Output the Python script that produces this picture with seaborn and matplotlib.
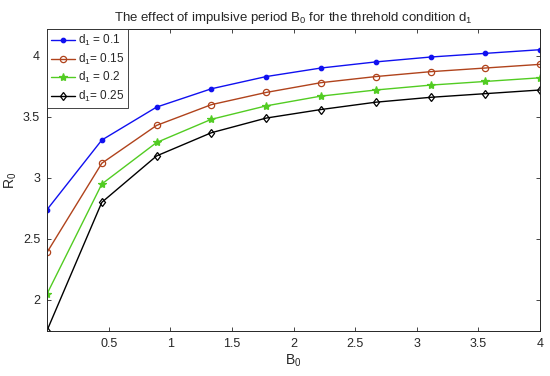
import numpy as np
import pandas as pd
import matplotlib
matplotlib.use("Agg")
import matplotlib.pyplot as plt
import seaborn as sns

# data
B0 = np.linspace(0, 4, 10)
r_d01 = [2.74, 3.31, 3.58, 3.73, 3.83, 3.90, 3.95, 3.99, 4.02, 4.05]
r_d015 = [2.39, 3.12, 3.43, 3.60, 3.70, 3.78, 3.83, 3.87, 3.90, 3.93]
r_d02 = [2.05, 2.95, 3.29, 3.48, 3.59, 3.67, 3.72, 3.76, 3.79, 3.82]
r_d025 = [1.75, 2.80, 3.18, 3.37, 3.49, 3.56, 3.62, 3.66, 3.69, 3.72]
labels = ["d$_1$ = 0.1", "d$_1$= 0.15", "d$_1$ = 0.2", "d$_1$= 0.25"]

sns.set_style("ticks")
plt.rcParams["font.family"] = ["Liberation Sans", "DejaVu Sans"]
plt.rcParams["mathtext.default"] = "regular"

fig = plt.figure(figsize=(5.5, 3.76), dpi=100)
ax = fig.add_axes([0.0855, 0.1197, 0.8965, 0.8033])

series = [r_d01, r_d015, r_d02, r_d025]
colors = ["#1010f0", "#b0431c", "#52cc22", "#000000"]
markers = ["o", "o", "*", "d"]
sizes = [3.2, 4.5, 6, 4.5]
fills = [True, False, True, False]

for vals, lab, c, m, s, f in zip(series, labels, colors, markers, sizes, fills):
    sns.lineplot(x=B0, y=vals, ax=ax, color=c, marker=m, markersize=s,
                 markerfacecolor=c if f else "none", markeredgecolor=c,
                 markeredgewidth=0.9, linewidth=1.0, label=lab)

ax.set_xlim(0, 4)
ax.set_ylim(1.746, 4.22)
ax.set_xticks([0.5, 1, 1.5, 2, 2.5, 3, 3.5, 4])
ax.set_xticklabels(["0.5", "1", "1.5", "2", "2.5", "3", "3.5", "4"])
ax.set_yticks([2, 2.5, 3, 3.5, 4])
ax.set_yticklabels(["2", "2.5", "3", "3.5", "4"])
ax.tick_params(direction="in", length=3, width=0.6, top=True, right=True,
               labelsize=9, colors="#262626", pad=5)
for sp in ax.spines.values():
    sp.set_linewidth(0.7)
    sp.set_color("#262626")
    sp.set_visible(True)

ax.set_xlabel("B$_0$", fontsize=10, labelpad=2)
ax.set_ylabel("R$_0$", fontsize=10, labelpad=3)
ax.set_title("The effect of impulsive period B$_0$ for the threhold condition d$_1$",
             fontsize=9.5, pad=6)

leg = ax.legend(loc="upper left", fontsize=8.5, frameon=True, fancybox=False,
                borderaxespad=0, handlelength=2.0, handletextpad=0.25,
                borderpad=0.35, labelspacing=0.3)
leg.get_frame().set_edgecolor("#262626")
leg.get_frame().set_linewidth(0.6)
leg.get_frame().set_alpha(1)

fig.savefig("out.png", dpi=100)
